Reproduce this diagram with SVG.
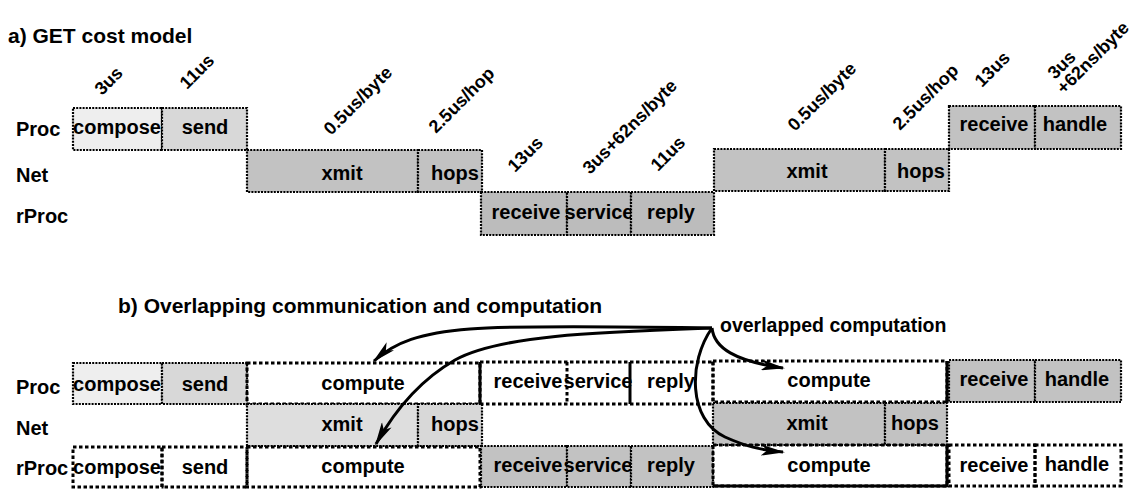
<svg xmlns="http://www.w3.org/2000/svg" width="1131" height="489" viewBox="0 0 1131 489">
<style>
text{font-family:"Liberation Sans",Arial,sans-serif;font-weight:bold;fill:#000}
.t{font-size:21px}
.l{font-size:20px}
.c{font-size:20px;text-anchor:middle}
.a{font-size:18px}
.dot{stroke:#000;stroke-width:2.2;stroke-dasharray:2 1.2}
.dash{fill:none;stroke:#000;stroke-width:3;stroke-dasharray:3.5 2.5}
.sol{stroke:#000;stroke-width:3;fill:none}
.f1{fill:#eeeeee}.f2{fill:#d8d8d8}.f3{fill:#c2c2c2}.f4{fill:#bcbcbc}.f5{fill:#dedede}
.arr{fill:none;stroke:#000;stroke-width:3;marker-end:url(#ah)}
</style>
<defs>
<marker id="ah" markerWidth="24" markerHeight="11" refX="22" refY="5.5" orient="auto" markerUnits="userSpaceOnUse">
<path d="M0,0 L24,5.5 L0,11 L6,5.5 z" fill="#000"/>
</marker>
</defs>
<rect width="1131" height="489" fill="#fff"/>

<text class="t" x="8" y="43">a) GET cost model</text>
<text class="t" x="118" y="313">b) Overlapping communication and computation</text>

<g id="rowlabels">
<text class="l" x="16" y="136">Proc</text>
<text class="l" x="16" y="182">Net</text>
<text class="l" x="16" y="223">rProc</text>
<text class="l" x="16" y="394">Proc</text>
<text class="l" x="16" y="435">Net</text>
<text class="l" x="16" y="475">rProc</text>
</g>

<g id="costs">
<text class="a" transform="translate(102,96) rotate(-45)">3us</text>
<text class="a" transform="translate(187,90) rotate(-45)">11us</text>
<text class="a" transform="translate(331,136) rotate(-45)">0.5us/byte</text>
<text class="a" transform="translate(436,134) rotate(-45)">2.5us/hop</text>
<text class="a" transform="translate(515,173) rotate(-45)">13us</text>
<text class="a" transform="translate(590,175) rotate(-45)">3us+62ns/byte</text>
<text class="a" transform="translate(658,172) rotate(-45)">11us</text>
<text class="a" transform="translate(795,132) rotate(-45)">0.5us/byte</text>
<text class="a" transform="translate(900,131) rotate(-45)">2.5us/hop</text>
<text class="a" transform="translate(982,88) rotate(-45)">13us</text>
<text class="a" transform="translate(1055,80) rotate(-45)">3us</text>
<text class="a" transform="translate(1064,95) rotate(-45)">+62ns/byte</text>
</g>

<!-- a) -->
<g id="a-compose"><rect class="dot f1" x="73" y="108" width="89" height="42"/><text class="c" x="117" y="134">compose</text></g>
<g id="a-send"><rect class="dot f2" x="162" y="108" width="85" height="42"/><text class="c" x="205" y="134">send</text></g>
<g id="a-xmit1"><rect class="dot f3" x="247" y="150" width="171" height="42"/><text class="c" x="342" y="180">xmit</text></g>
<g id="a-hops1"><rect class="dot f3" x="418" y="150" width="64" height="42"/><text class="c" x="455" y="180">hops</text></g>
<g id="a-rreceive"><rect class="dot f4" x="481" y="192" width="86" height="43"/><text class="c" x="526" y="219">receive</text></g>
<g id="a-service"><rect class="dot f4" x="567" y="192" width="64" height="43"/><text class="c" x="599" y="219">service</text></g>
<g id="a-reply"><rect class="dot f4" x="631" y="192" width="83" height="43"/><text class="c" x="671" y="219">reply</text></g>
<g id="a-xmit2"><rect class="dot f3" x="714" y="149" width="171" height="42"/><text class="c" x="807" y="178">xmit</text></g>
<g id="a-hops2"><rect class="dot f3" x="885" y="149" width="64" height="42"/><text class="c" x="921" y="178">hops</text></g>
<g id="a-receive"><rect class="dot f3" x="949" y="106" width="86" height="43"/><text class="c" x="994" y="131">receive</text></g>
<g id="a-handle"><rect class="dot f3" x="1035" y="106" width="86" height="43"/><text class="c" x="1075" y="131">handle</text></g>

<!-- b) Proc -->
<g id="b-compose"><rect class="dot f1" x="73" y="363" width="89" height="41"/><text class="c" x="117" y="391">compose</text></g>
<g id="b-send"><rect class="dot f2" x="162" y="363" width="85" height="41"/><text class="c" x="205" y="391">send</text></g>
<g id="b-compute1"><rect class="dash" x="247" y="363" width="233" height="41"/><line class="sol" x1="480" y1="362" x2="480" y2="405"/><text class="c" x="363" y="390">compute</text></g>
<g id="b-receive"><path class="dash" d="M480,362 H713 M480,404 H713 M567,362 V404 M713,362 V404"/><line class="sol" x1="630" y1="362" x2="630" y2="404"/><text class="c" x="528" y="388">receive</text></g>
<g id="b-service"><text class="c" x="598" y="388">service</text></g>
<g id="b-reply"><text class="c" x="671" y="388">reply</text></g>
<g id="b-compute2"><rect class="dash" x="713" y="361" width="234" height="41"/><line class="sol" x1="947" y1="361" x2="947" y2="403"/><text class="c" x="829" y="387">compute</text></g>
<g id="b-preceive"><rect class="dot f3" x="949" y="360" width="86" height="42"/><text class="c" x="994" y="386">receive</text></g>
<g id="b-phandle"><rect class="dot f3" x="1035" y="360" width="86" height="42"/><text class="c" x="1077" y="386">handle</text></g>

<!-- b) Net -->
<g id="b-xmit1"><rect class="dot f5" x="247" y="404" width="171" height="42"/><text class="c" x="342" y="431">xmit</text></g>
<g id="b-hops1"><rect class="dot f2" x="418" y="404" width="64" height="42"/><text class="c" x="455" y="431">hops</text></g>
<g id="b-xmit2"><rect class="dot f3" x="713" y="403" width="172" height="42"/><text class="c" x="807" y="430">xmit</text></g>
<g id="b-hops2"><rect class="dot f3" x="885" y="403" width="62" height="42"/><text class="c" x="915" y="430">hops</text></g>

<!-- b) rProc -->
<g id="b-rcompose"><rect class="dash" x="73" y="447" width="89" height="40"/><text class="c" x="117" y="474">compose</text></g>
<g id="b-rsend"><rect class="dash" x="162" y="447" width="85" height="40"/><text class="c" x="205" y="474">send</text></g>
<g id="b-rcompute1"><rect class="dash" x="247" y="447" width="233" height="40"/><text class="c" x="363" y="473">compute</text></g>
<g id="b-rreceive"><rect class="dot f3" x="481" y="446" width="86" height="41"/><text class="c" x="528" y="472">receive</text></g>
<g id="b-rservice"><rect class="dot f3" x="567" y="446" width="64" height="41"/><text class="c" x="598" y="472">service</text></g>
<g id="b-rreply"><rect class="dot f3" x="631" y="446" width="82" height="41"/><text class="c" x="671" y="472">reply</text></g>
<g id="b-rcompute2"><rect class="dash" x="713" y="445" width="234" height="41"/><line class="sol" x1="947" y1="445" x2="947" y2="487"/><line class="sol" x1="713" y1="486" x2="947" y2="486"/><text class="c" x="829" y="472">compute</text></g>
<g id="b-rreceive2"><rect class="dash" x="949" y="445" width="86" height="41"/><text class="c" x="994" y="472">receive</text></g>
<g id="b-rhandle"><rect class="dash" x="1035" y="445" width="86" height="41"/><text class="c" x="1077" y="471">handle</text></g>

<g id="note"><text style="font-size:19.5px" x="720" y="332">overlapped computation</text></g>

<g id="connectors">
<path class="arr" d="M712,328 C640,327 520,325 470,329 C420,333 395,342 374,361"/>
<path class="arr" d="M712,328 C600,332 500,335 455,360 C420,380 395,410 376,444"/>
<path class="arr" d="M712,328 C714,348 735,361 783,368"/>
<path class="arr" d="M712,328 C688,362 688,420 725,437 C745,446 760,450 783,452"/>
</g>
</svg>
